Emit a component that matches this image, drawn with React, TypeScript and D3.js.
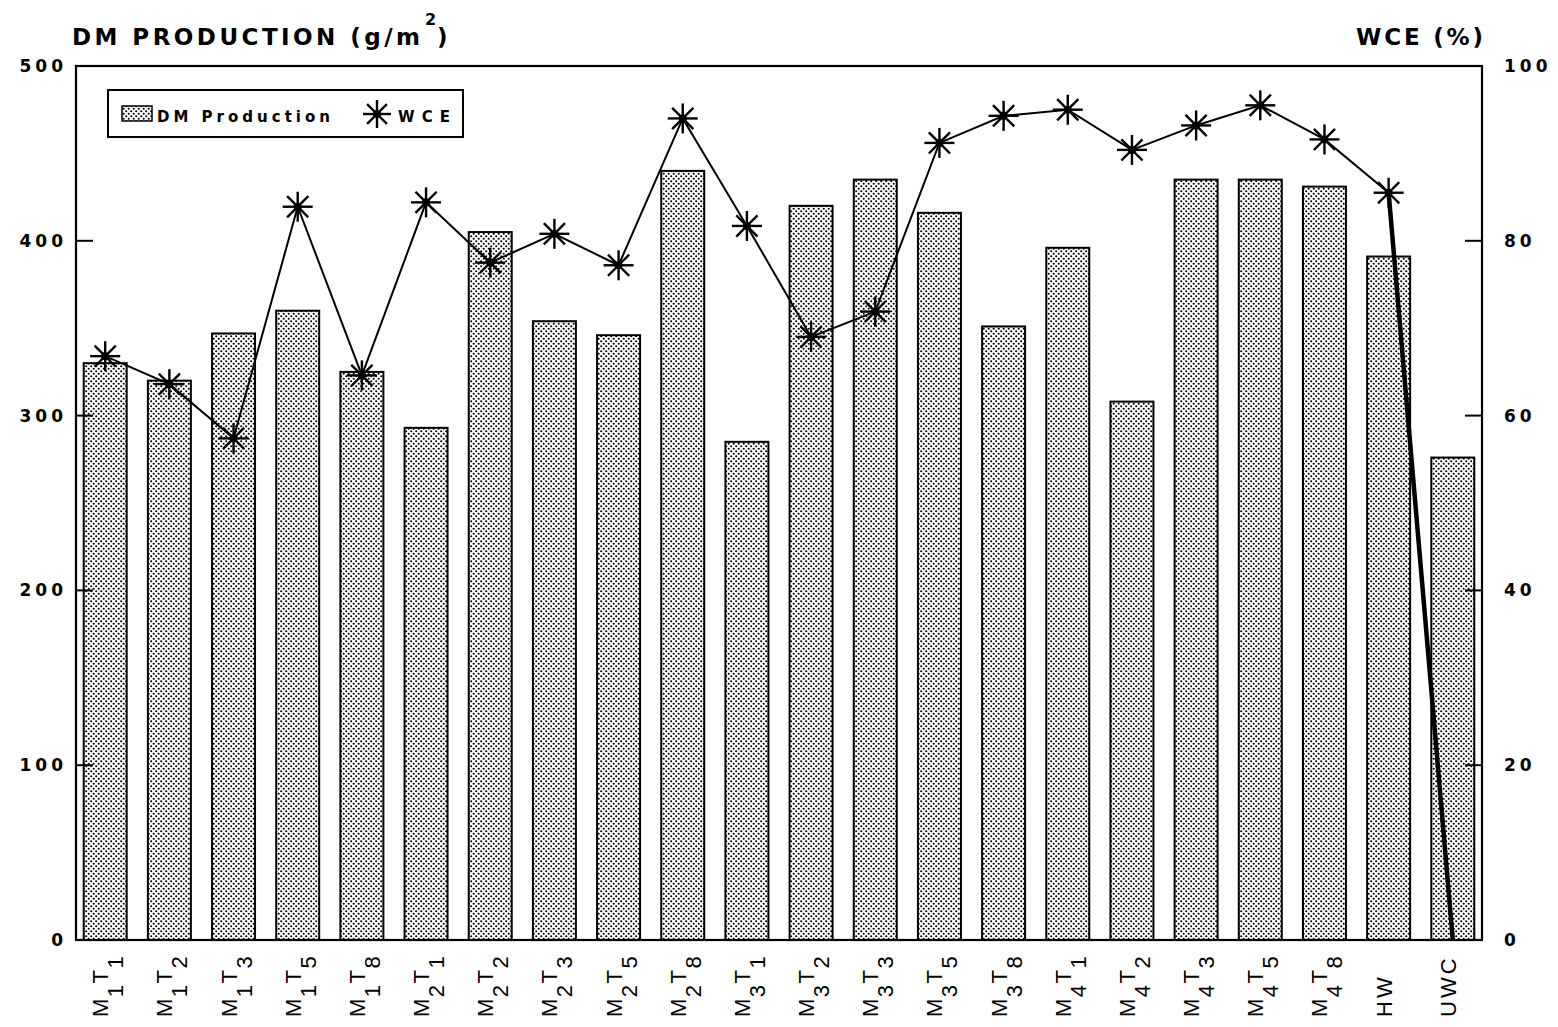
import React from "react";
import * as d3 from "d3";

// Treatment codes: main letter, its subscript, second letter, its subscript
const categories = [
  "M1T1", "M1T2", "M1T3", "M1T5", "M1T8",
  "M2T1", "M2T2", "M2T3", "M2T5", "M2T8",
  "M3T1", "M3T2", "M3T3", "M3T5", "M3T8",
  "M4T1", "M4T2", "M4T3", "M4T5", "M4T8",
  "HW", "UWC",
];

// Dry matter production, g/m²
const dmProduction = [
  330, 320, 347, 360, 325,
  293, 405, 354, 346, 440,
  285, 420, 435, 416, 351,
  396, 308, 435, 435, 431,
  391, 276,
];

// Water conversion efficiency, %
const wce = [
  66.8, 63.6, 57.4, 83.9, 64.6,
  84.4, 77.5, 80.8, 77.2, 94.0,
  81.7, 69.0, 71.9, 91.2, 94.3,
  95.0, 90.4, 93.2, 95.5, 91.6,
  85.5, 0,
];

const leftTicks = [0, 100, 200, 300, 400, 500];
const rightTicks = [0, 20, 40, 60, 80, 100];

const W = 1558;
const H = 1027;
const margin = { left: 76, right: 76, top: 66, bottom: 87 };
const FONT = "'Liberation Sans', Arial, sans-serif";
const BOLD = "'DejaVu Sans', 'Liberation Sans', sans-serif";

function Star({ x, y, r = 15 }: { x: number; y: number; r?: number }) {
  const spokes = d3.range(8).map((i) => (i * Math.PI) / 4);
  return (
    <g>
      {spokes.map((a, i) => (
        <line
          key={i}
          x1={x}
          y1={y}
          x2={x + r * Math.cos(a)}
          y2={y + r * Math.sin(a)}
          stroke="#000"
          strokeWidth={2.4}
        />
      ))}
      <circle cx={x} cy={y} r={4} fill="#000" />
    </g>
  );
}

function CategoryLabel({ code, x, y }: { code: string; x: number; y: number }) {
  const m = code.match(/^([A-Z])(\d)([A-Z])(\d)$/);
  const style = { fontFamily: FONT, fontSize: 22, fill: "#000" } as const;
  if (!m) {
    return (
      <text transform={`translate(${x},${y}) rotate(-90)`} style={style} letterSpacing={3}>
        {code}
      </text>
    );
  }
  return (
    <text transform={`translate(${x},${y}) rotate(-90)`} style={style} letterSpacing={1.5}>
      {m[1]}
      <tspan dy={15}>{m[2]}</tspan>
      <tspan dy={-15}>{m[3]}</tspan>
      <tspan dy={15}>{m[4]}</tspan>
    </text>
  );
}

export default function App() {
  const x0 = margin.left;
  const x1 = W - margin.right;
  const y0 = H - margin.bottom;
  const y1 = margin.top;

  const x = d3.scaleBand<string>().domain(categories).range([x0, x1]).paddingInner(0.33).paddingOuter(0.12);
  const yL = d3.scaleLinear().domain([0, 500]).range([y0, y1]);
  const yR = d3.scaleLinear().domain([0, 100]).range([y0, y1]);

  const pts = categories.map((c, i) => [x(c)! + x.bandwidth() / 2, yR(wce[i])] as [number, number]);
  const line = d3.line();
  const n = pts.length;

  return (
    <svg width={W} height={H} style={{ display: "block", position: "absolute", left: 0, top: 0, background: "#fff" }}>
      <defs>
        <pattern id="dots" width={5} height={5} patternUnits="userSpaceOnUse">
          <rect width={5} height={5} fill="#fff" />
          <circle cx={1.2} cy={1.2} r={1.05} fill="#000" />
          <circle cx={3.7} cy={3.7} r={1.05} fill="#000" />
        </pattern>
      </defs>
      <rect width={W} height={H} fill="#fff" />

      {/* Axis titles */}
      <text x={72} y={45} fontFamily={BOLD} fontWeight="bold" fontSize={23} textLength={348} lengthAdjust="spacing">
        DM PRODUCTION (g/m
      </text>
      <text x={425} y={25} fontFamily={BOLD} fontWeight="bold" fontSize={16}>2</text>
      <text x={437} y={45} fontFamily={BOLD} fontWeight="bold" fontSize={23}>)</text>
      <text x={1356} y={45} fontFamily={BOLD} fontWeight="bold" fontSize={23} textLength={127} lengthAdjust="spacing">
        WCE (%)
      </text>

      {/* Bars */}
      {categories.map((c, i) => (
        <rect
          key={c}
          x={x(c)}
          y={yL(dmProduction[i])}
          width={x.bandwidth()}
          height={y0 - yL(dmProduction[i])}
          fill="url(#dots)"
          stroke="#000"
          strokeWidth={2}
        />
      ))}

      {/* Frame */}
      <rect x={x0} y={y1} width={x1 - x0} height={y0 - y1} fill="none" stroke="#000" strokeWidth={2.2} />

      {/* Left axis ticks and labels */}
      {leftTicks.map((t) => (
        <g key={`l${t}`}>
          {t > 0 && t < 500 && <line x1={x0} x2={x0 + 17} y1={yL(t)} y2={yL(t)} stroke="#000" strokeWidth={2} />}
          <text x={67} y={yL(t) + 6} textAnchor="end" fontFamily={BOLD} fontWeight="bold" fontSize={17} letterSpacing={4}>
            {t}
          </text>
        </g>
      ))}

      {/* Right axis ticks and labels */}
      {rightTicks.map((t) => (
        <g key={`r${t}`}>
          {t > 0 && t < 100 && <line x1={x1} x2={x1 - 17} y1={yR(t)} y2={yR(t)} stroke="#000" strokeWidth={2} />}
          <text x={1504} y={yR(t) + 6} fontFamily={BOLD} fontWeight="bold" fontSize={17} letterSpacing={4}>
            {t}
          </text>
        </g>
      ))}

      {/* WCE line */}
      <path d={line(pts.slice(0, n - 1)) ?? ""} fill="none" stroke="#000" strokeWidth={2} />
      <path d={line(pts.slice(n - 2)) ?? ""} fill="none" stroke="#000" strokeWidth={4.5} />
      {pts.slice(0, n - 1).map(([px, py], i) => (
        <Star key={i} x={px} y={py} />
      ))}

      {/* Category labels */}
      {categories.map((c) => (
        <CategoryLabel key={c} code={c} x={x(c)! + x.bandwidth() / 2 + 3} y={1017} />
      ))}

      {/* Legend */}
      <rect x={108} y={90} width={355} height={47} fill="#fff" stroke="#000" strokeWidth={2} />
      <rect x={122} y={106} width={30} height={15} fill="url(#dots)" stroke="#000" strokeWidth={1.5} />
      <text x={157} y={122} fontFamily={BOLD} fontWeight="bold" fontSize={15} textLength={173} lengthAdjust="spacing">
        DM Production
      </text>
      <Star x={377} y={114} r={14} />
      <text x={398} y={122} fontFamily={BOLD} fontWeight="bold" fontSize={15} textLength={52} lengthAdjust="spacing">
        WCE
      </text>
    </svg>
  );
}
